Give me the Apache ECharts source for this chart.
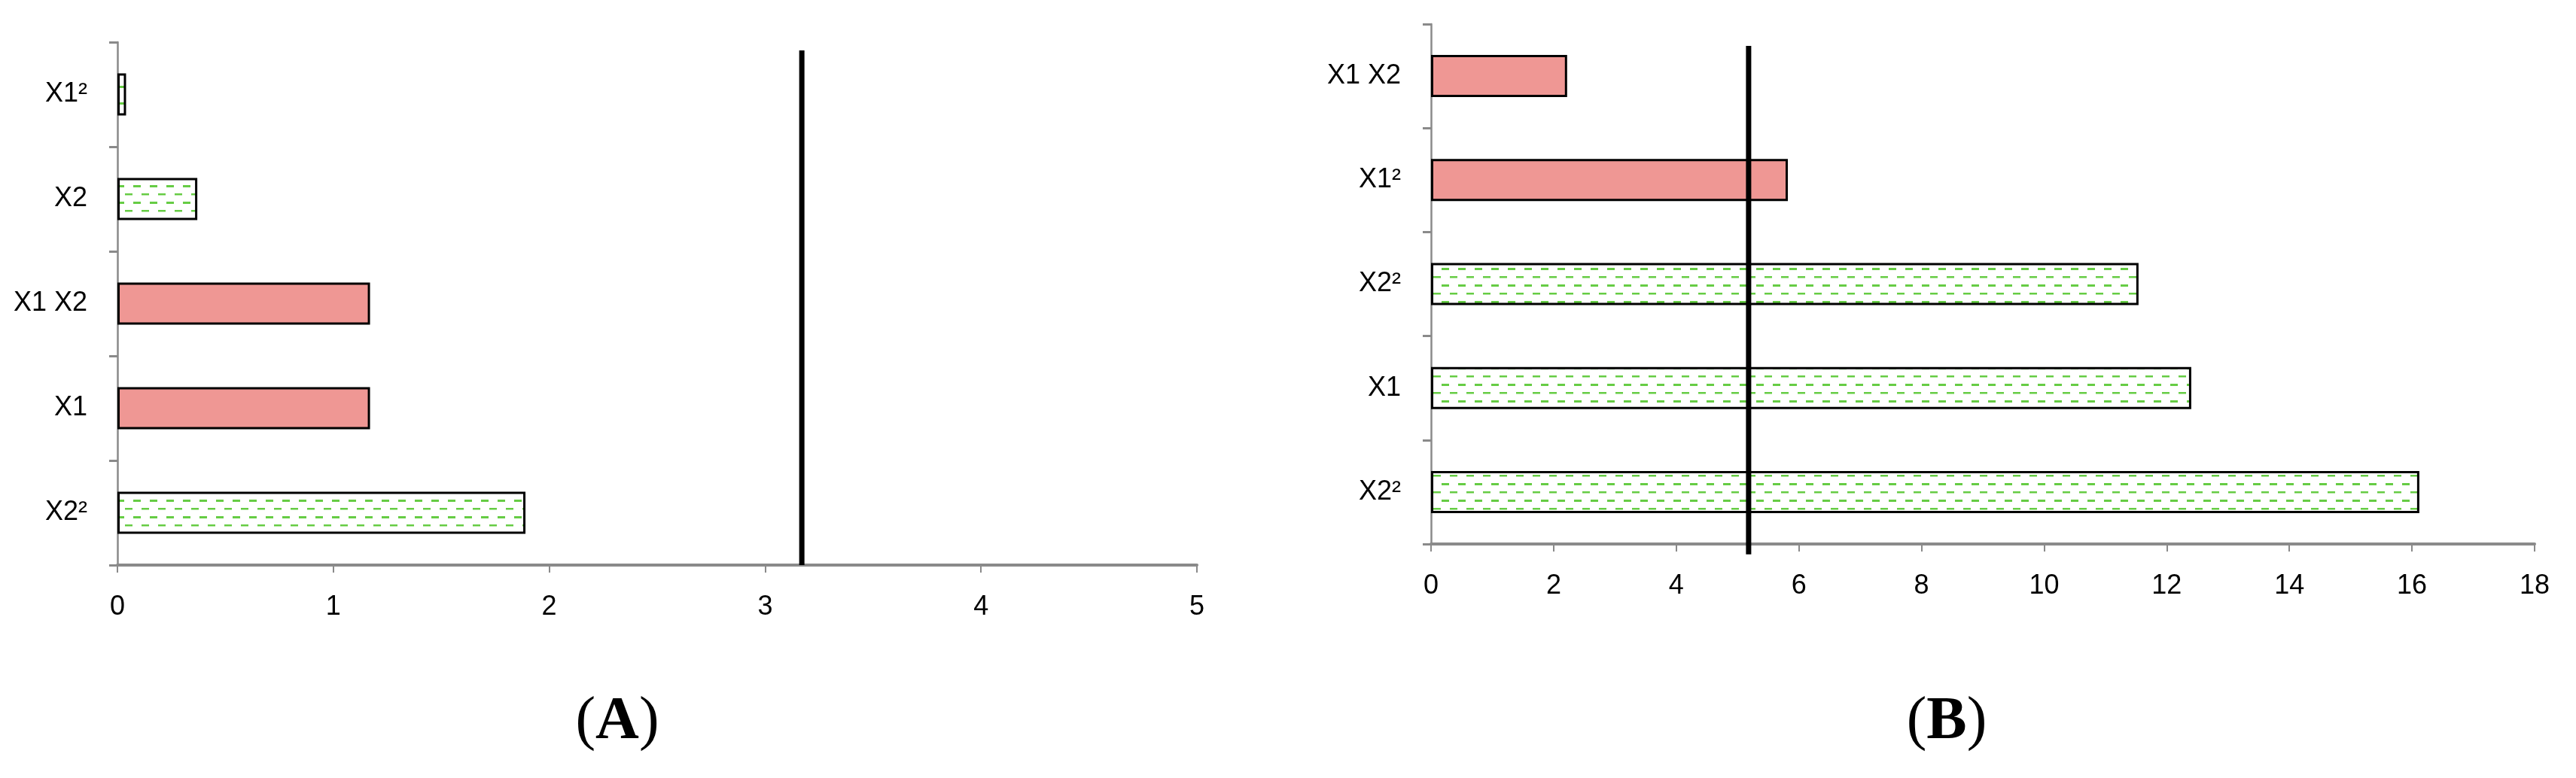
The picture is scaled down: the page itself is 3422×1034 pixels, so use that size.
<!DOCTYPE html>
<html>
<head>
<meta charset="utf-8">
<script src="https://cdn.jsdelivr.net/npm/echarts@6/dist/echarts.min.js"></script>
<style>
  html, body { margin: 0; padding: 0; background: #fff; }
  #chart { width: 3422px; height: 1034px; }
</style>
</head>
<body>
<div id="chart"></div>
<script>
  // panel A (bottom to top, as echarts lays out categories)
  const catsA = ['X2²', 'X1', 'X1 X2', 'X2', 'X1²'];
  const valsA = [1.89, 1.17, 1.17, 0.37, 0.04];
  const kindA = ['pos', 'neg', 'neg', 'pos', 'pos'];
  const critA = 3.17;
  const ticksA = [0, 1, 2, 3, 4, 5];

  // panel B
  const catsB = ['X2²', 'X1', 'X2²', 'X1²', 'X1 X2'];
  const valsB = [16.12, 12.4, 11.54, 5.82, 2.22];
  const kindB = ['pos', 'pos', 'pos', 'neg', 'neg'];
  const critB = 5.18;
  const ticksB = [0, 2, 4, 6, 8, 10, 12, 14, 16, 18];

  // green dashed hatch like the excel fill
  function makeHatch() {
    const c = document.createElement('canvas');
    c.width = 22; c.height = 22;
    const ctx = c.getContext('2d');
    ctx.fillStyle = '#fff';
    ctx.fillRect(0, 0, 22, 22);
    ctx.fillStyle = '#66cc44';
    ctx.fillRect(1, 4, 10, 3);
    ctx.fillRect(12, 15, 10, 2.5);
    return c;
  }
  const hatch = { image: makeHatch(), repeat: 'repeat' };
  const pink = '#ef9794';

  const axisGray = '#8a8a8a';
  const labelFont = { color: '#000', fontSize: 36, fontFamily: 'Liberation Sans' };

  function barData(vals, kinds) {
    return vals.map(function (v, i) {
      return { value: v, itemStyle: { color: kinds[i] === 'neg' ? pink : hatch } };
    });
  }

  function valueAxis(grid, ticks) {
    return {
      type: 'value', gridIndex: grid,
      min: ticks[0], max: ticks[ticks.length - 1], interval: ticks[1] - ticks[0],
      axisLine: { show: true, lineStyle: { color: axisGray, width: 4 } },
      axisTick: { show: true, length: 10, lineStyle: { color: axisGray, width: 2 } },
      axisLabel: Object.assign({ margin: 38 }, labelFont),
      splitLine: { show: false }
    };
  }

  function catAxis(grid, cats) {
    return {
      type: 'category', gridIndex: grid, data: cats,
      axisLine: { show: true, lineStyle: { color: axisGray, width: 2.5 } },
      axisTick: { show: true, length: 11, lineStyle: { color: axisGray, width: 3 } },
      axisLabel: Object.assign({ margin: 40 }, labelFont)
    };
  }

  const chart = echarts.init(document.getElementById('chart'));
  chart.setOption({
    animation: false,
    backgroundColor: '#fff',
    grid: [
      { left: 156, top: 56, width: 1434, height: 695 },
      { left: 1901, top: 32, width: 1466, height: 691 }
    ],
    xAxis: [valueAxis(0, ticksA), valueAxis(1, ticksB)],
    yAxis: [
      catAxis(0, catsA),
      catAxis(1, catsB),
      { type: 'value', gridIndex: 0, min: 0, max: 1, show: false },
      { type: 'value', gridIndex: 1, min: 0, max: 1, show: false }
    ],
    series: [
      {
        type: 'bar', xAxisIndex: 0, yAxisIndex: 0, barWidth: 56,
        itemStyle: { borderColor: '#000', borderWidth: 3 },
        data: barData(valsA, kindA)
      },
      {
        type: 'bar', xAxisIndex: 1, yAxisIndex: 1, barWidth: 56,
        itemStyle: { borderColor: '#000', borderWidth: 3 },
        data: barData(valsB, kindB)
      },
      {
        type: 'line', xAxisIndex: 0, yAxisIndex: 2, clip: false, silent: true,
        symbol: 'none', lineStyle: { color: '#000', width: 7 },
        data: [[critA, 0], [critA, 0.984]]
      },
      {
        type: 'line', xAxisIndex: 1, yAxisIndex: 3, clip: false, silent: true,
        symbol: 'none', lineStyle: { color: '#000', width: 7 },
        data: [[critB, -0.02], [critB, 0.958]]
      }
    ],
    graphic: [
      {
        type: 'text', x: 820, y: 960,
        style: {
          text: '{p|(}{b|A}{p|)}', align: 'center', verticalAlign: 'middle',
          rich: {
            p: { fontSize: 80, fontFamily: 'Liberation Serif', color: '#000' },
            b: { fontSize: 80, fontFamily: 'Liberation Serif', fontWeight: 'bold', color: '#000' }
          }
        }
      },
      {
        type: 'text', x: 2586, y: 960,
        style: {
          text: '{p|(}{b|B}{p|)}', align: 'center', verticalAlign: 'middle',
          rich: {
            p: { fontSize: 80, fontFamily: 'Liberation Serif', color: '#000' },
            b: { fontSize: 80, fontFamily: 'Liberation Serif', fontWeight: 'bold', color: '#000' }
          }
        }
      }
    ]
  });
</script>
</body>
</html>
